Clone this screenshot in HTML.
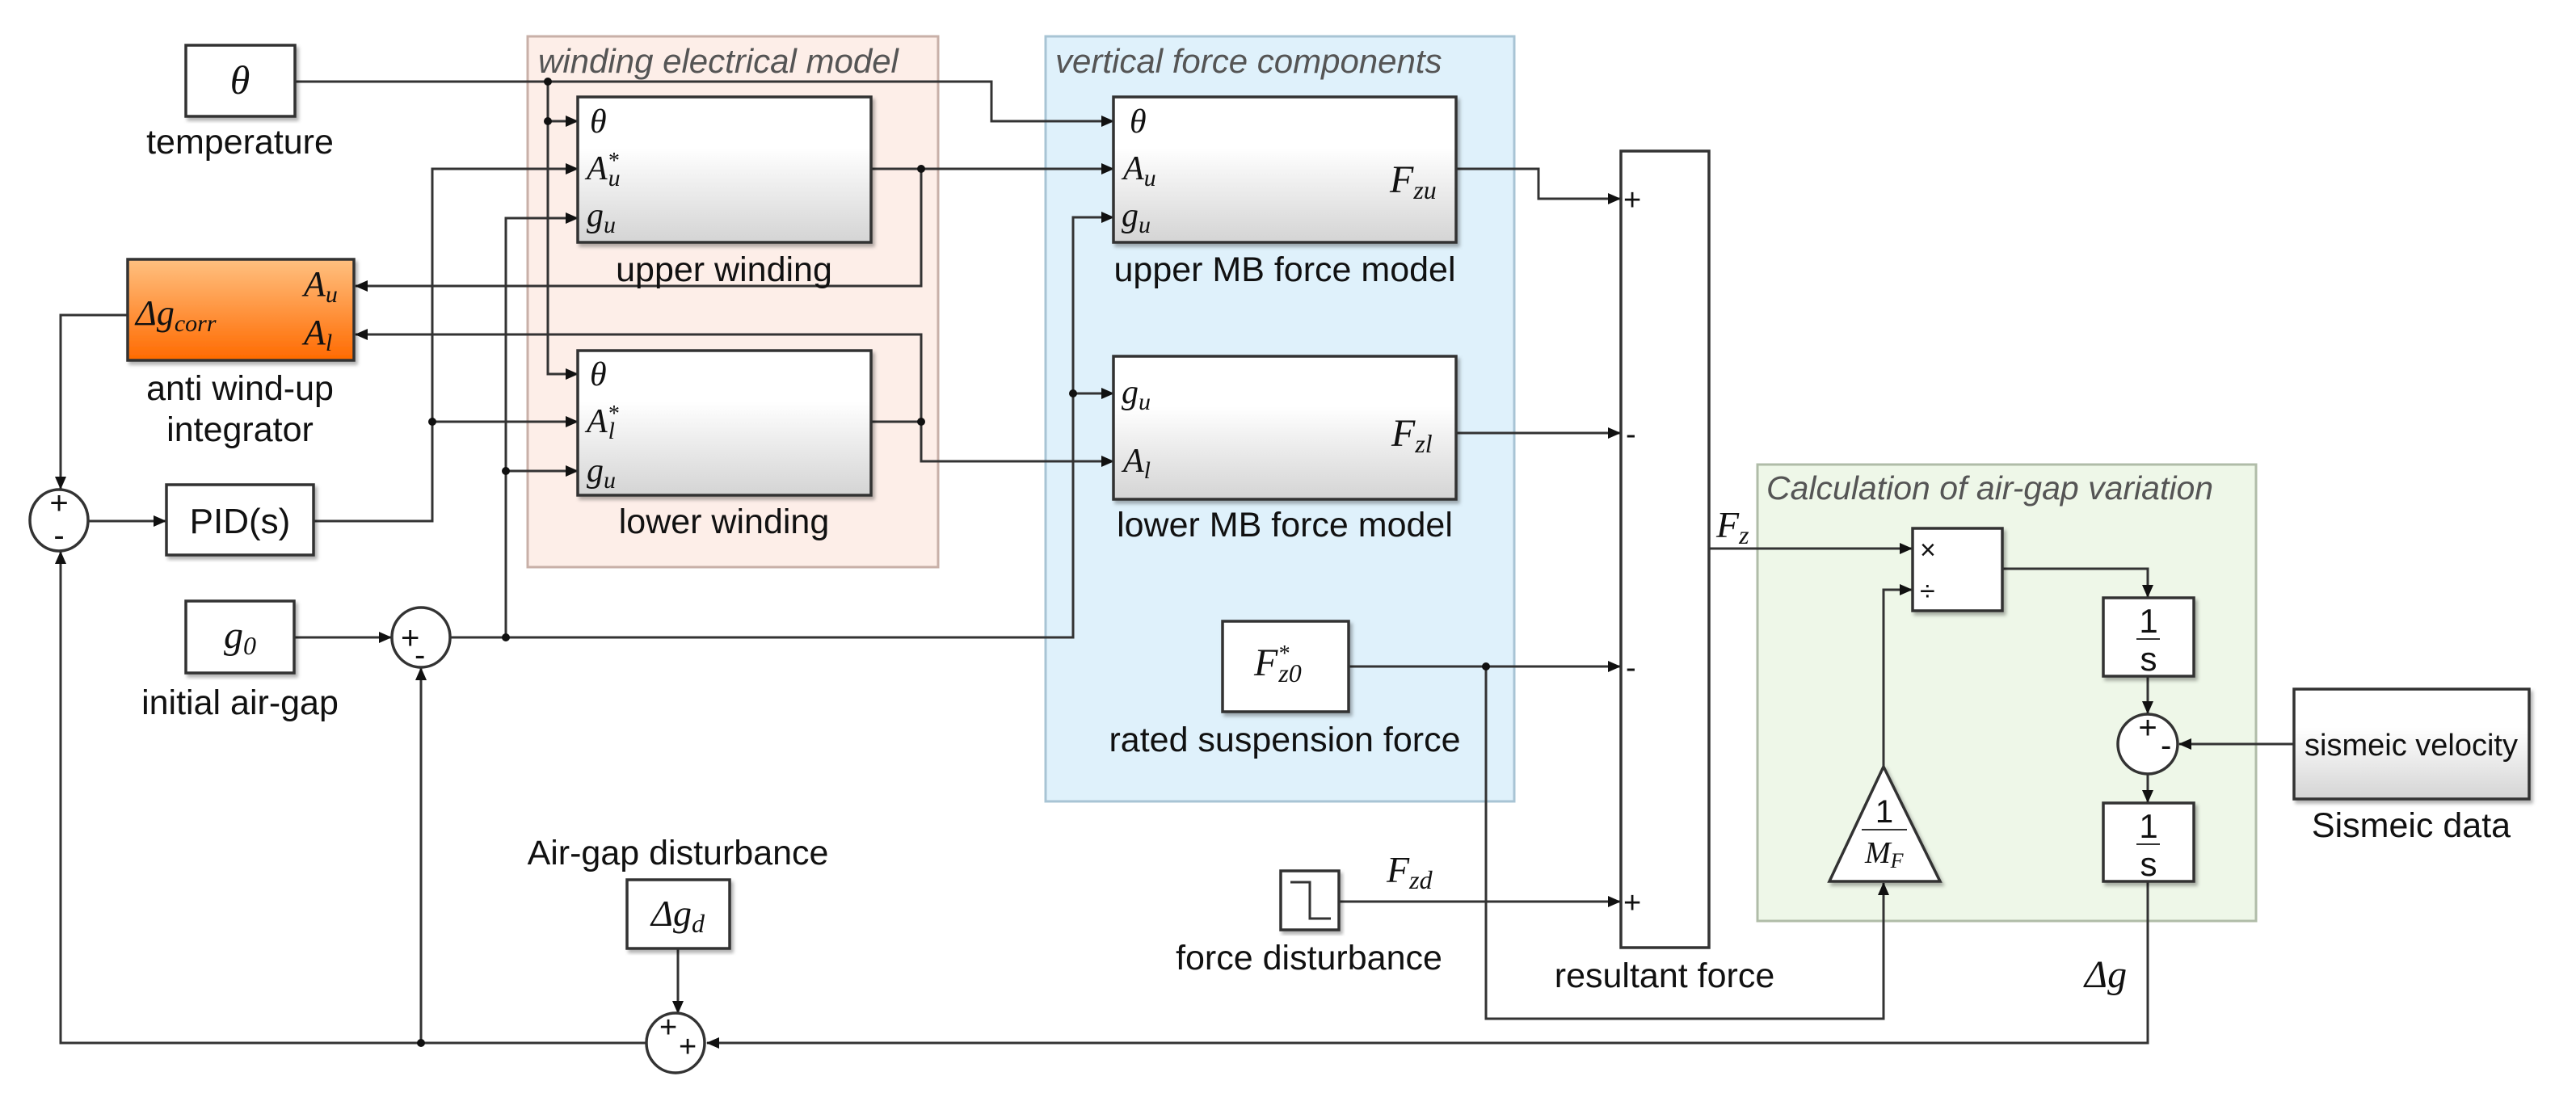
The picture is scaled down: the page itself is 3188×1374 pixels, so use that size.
<!DOCTYPE html>
<html><head><meta charset="utf-8"><style>
html,body{margin:0;padding:0;background:#fff;}
svg{display:block;}
.s{font-family:"Liberation Sans",sans-serif;fill:#111;}
.m{font-family:"Liberation Serif",serif;font-style:italic;fill:#111;}
.t{font-family:"Liberation Sans",sans-serif;font-style:italic;fill:#555;}
.w{stroke:#333;stroke-width:3;fill:none;}
.b{stroke:#333;stroke-width:3.5;}
</style></head><body>
<svg width="3188" height="1374" viewBox="0 0 3188 1374" xmlns="http://www.w3.org/2000/svg" font-size="42">
<defs>
<marker id="a" markerWidth="16" markerHeight="16" refX="15" refY="8" orient="auto" markerUnits="userSpaceOnUse" viewBox="0 0 16 16"><path d="M0,1 L16,8 L0,15z" fill="#111"/></marker>
<linearGradient id="g" x1="0" y1="0" x2="0" y2="1"><stop offset="0.35" stop-color="#fff"/><stop offset="1" stop-color="#d4d4d4"/></linearGradient>
<linearGradient id="o" x1="0" y1="0" x2="0" y2="1"><stop offset="0" stop-color="#ffc080"/><stop offset="1" stop-color="#ff6a00"/></linearGradient>
<filter id="sh" x="-5%" y="-5%" width="115%" height="115%"><feDropShadow dx="3" dy="4" stdDeviation="2" flood-color="#000" flood-opacity="0.3"/></filter>
</defs>

<rect x="653" y="45" width="508" height="657" fill="#fdeee8" stroke="#c8b0a8" stroke-width="3"/>
<text class="t" x="666" y="90" font-size="42">winding electrical model</text>
<rect x="1294" y="45" width="580" height="947" fill="#dff1fb" stroke="#a8c4d4" stroke-width="3"/>
<text class="t" x="1306" y="90" font-size="42">vertical force components</text>
<rect x="2175" y="575" width="617" height="565" fill="#eef7e8" stroke="#b0bca8" stroke-width="3"/>
<text class="t" x="2186" y="618" font-size="41">Calculation of air-gap variation</text>

<g class="w" marker-end="url(#a)">
<polyline points="365,101 1227,101 1227,150 1378,150"/>
<polyline points="678,101 678,150 715,150"/>
<polyline points="678,150 678,463 715,463"/>
<polyline points="388,645 535,645 535,209 715,209"/>
<polyline points="535,522 715,522"/>
<polyline points="558,789 1328,789 1328,269 1378,269"/>
<polyline points="626,789 626,270 715,270"/>
<polyline points="626,583 715,583"/>
<polyline points="1328,487 1378,487"/>
<polyline points="1078,209 1378,209"/>
<polyline points="1140,209 1140,354 440,354"/>
<polyline points="1078,522 1140,522 1140,414 440,414"/>
<polyline points="1140,522 1140,571 1378,571"/>
<polyline points="158,390 75,390 75,605"/>
<polyline points="109,645 205,645"/>
<polyline points="364,789 484,789"/>
<polyline points="1802,209 1904,209 1904,246 2005,246"/>
<polyline points="1802,536 2005,536"/>
<polyline points="1669,825 2005,825"/>
<polyline points="1657,1116 2005,1116"/>
<polyline points="1839,825 1839,1261 2331,1261 2331,1093"/>
<polyline points="2331,949 2331,730 2366,730"/>
<polyline points="2115,679 2366,679"/>
<polyline points="2478,704 2658,704 2658,739"/>
<polyline points="2658,837 2658,883"/>
<polyline points="2658,957 2658,993"/>
<polyline points="2839,921 2697,921"/>
<polyline points="2658,1091 2658,1291 875,1291"/>
<polyline points="839,1174 839,1254"/>
<polyline points="800,1291 75,1291 75,683"/>
<polyline points="521,1291 521,827"/>
</g>
<g fill="#111">
<circle cx="678" cy="101" r="5"/><circle cx="678" cy="150" r="5"/>
<circle cx="535" cy="522" r="5"/><circle cx="626" cy="583" r="5"/>
<circle cx="626" cy="789" r="5"/><circle cx="1140" cy="209" r="5"/>
<circle cx="1140" cy="522" r="5"/><circle cx="1328" cy="487" r="5"/>
<circle cx="1839" cy="825" r="5"/><circle cx="521" cy="1291" r="5"/>
</g>

<rect x="230" y="56" width="135" height="88" fill="#fff" class="b" filter="url(#sh)"/>
<text class="m" x="297" y="116" text-anchor="middle" font-size="50">θ</text>
<text class="s" x="297" y="190" text-anchor="middle" font-size="43">temperature</text>

<rect x="158" y="321" width="280" height="125" fill="url(#o)" class="b" filter="url(#sh)"/>
<text class="m" x="168" y="402" font-size="44">Δg<tspan font-size="30" dy="8">corr</tspan></text>
<text class="m" x="376" y="366" font-size="44">A<tspan font-size="30" dy="8">u</tspan></text>
<text class="m" x="376" y="426" font-size="44">A<tspan font-size="30" dy="8">l</tspan></text>
<text class="s" x="297" y="495" text-anchor="middle" font-size="43">anti wind-up</text>
<text class="s" x="297" y="546" text-anchor="middle" font-size="43">integrator</text>

<rect x="206" y="600" width="182" height="87" fill="#fff" class="b" filter="url(#sh)"/>
<text class="s" x="297" y="660" text-anchor="middle" font-size="44">PID(s)</text>

<ellipse cx="73" cy="644" rx="36" ry="38" fill="#fff" class="b"/>
<text class="s" x="73" y="636" text-anchor="middle" font-size="40">+</text>
<text class="s" x="73" y="676" text-anchor="middle" font-size="40">-</text>
<ellipse cx="521" cy="789" rx="36" ry="37" fill="#fff" class="b"/>
<text class="s" x="496" y="803" font-size="40">+</text>
<text class="s" x="513" y="824" font-size="40">-</text>
<ellipse cx="836" cy="1291" rx="36" ry="37" fill="#fff" class="b"/>
<text class="s" x="816" y="1284" font-size="38">+</text>
<text class="s" x="840" y="1308" font-size="38">+</text>
<ellipse cx="2658" cy="921" rx="37" ry="37" fill="#fff" class="b"/>
<text class="s" x="2658" y="914" text-anchor="middle" font-size="40">+</text>
<text class="s" x="2674" y="936" font-size="40">-</text>

<rect x="230" y="744" width="134" height="89" fill="#fff" class="b" filter="url(#sh)"/>
<text class="m" x="297" y="802" text-anchor="middle" font-size="48">g<tspan font-size="32" dy="8">0</tspan></text>
<text class="s" x="297" y="884" text-anchor="middle" font-size="43">initial air-gap</text>

<rect x="715" y="120" width="363" height="180" fill="url(#g)" class="b" filter="url(#sh)"/>
<text class="m" x="730" y="164" font-size="42">θ</text>
<text class="m" x="726" y="222" font-size="42">A<tspan font-size="28" dy="-14">*</tspan><tspan font-size="30" dx="-13" dy="22">u</tspan></text>
<text class="m" x="726" y="280" font-size="42">g<tspan font-size="30" dy="8">u</tspan></text>
<text class="s" x="896" y="348" text-anchor="middle" font-size="43">upper winding</text>
<rect x="715" y="434" width="363" height="179" fill="url(#g)" class="b" filter="url(#sh)"/>
<text class="m" x="730" y="477" font-size="42">θ</text>
<text class="m" x="726" y="535" font-size="42">A<tspan font-size="28" dy="-14">*</tspan><tspan font-size="30" dx="-13" dy="22">l</tspan></text>
<text class="m" x="726" y="596" font-size="42">g<tspan font-size="30" dy="8">u</tspan></text>
<text class="s" x="896" y="660" text-anchor="middle" font-size="43">lower winding</text>

<rect x="1378" y="120" width="424" height="180" fill="url(#g)" class="b" filter="url(#sh)"/>
<text class="m" x="1398" y="164" font-size="42">θ</text>
<text class="m" x="1390" y="222" font-size="42">A<tspan font-size="30" dy="8">u</tspan></text>
<text class="m" x="1388" y="280" font-size="42">g<tspan font-size="30" dy="8">u</tspan></text>
<text class="m" x="1720" y="238" font-size="48">F<tspan font-size="32" dy="8">zu</tspan></text>
<text class="s" x="1590" y="348" text-anchor="middle" font-size="43">upper MB force model</text>
<rect x="1378" y="441" width="424" height="177" fill="url(#g)" class="b" filter="url(#sh)"/>
<text class="m" x="1388" y="499" font-size="42">g<tspan font-size="30" dy="8">u</tspan></text>
<text class="m" x="1390" y="584" font-size="42">A<tspan font-size="30" dy="8">l</tspan></text>
<text class="m" x="1722" y="552" font-size="48">F<tspan font-size="32" dy="8">zl</tspan></text>
<text class="s" x="1590" y="664" text-anchor="middle" font-size="43">lower MB force model</text>

<rect x="1513" y="769" width="156" height="112" fill="#fff" class="b" filter="url(#sh)"/>
<text class="m" x="1552" y="836" font-size="48">F<tspan font-size="28" dy="-18">*</tspan><tspan font-size="32" dx="-13" dy="26">z0</tspan></text>
<text class="s" x="1590" y="930" text-anchor="middle" font-size="43">rated suspension force</text>

<rect x="1585" y="1078" width="72" height="73" fill="#fff" class="b" filter="url(#sh)"/>
<polyline points="1597,1092 1621,1092 1621,1137 1647,1137" fill="none" stroke="#333" stroke-width="3"/>
<text class="s" x="1620" y="1200" text-anchor="middle" font-size="43">force disturbance</text>
<text class="m" x="1716" y="1092" font-size="46">F<tspan font-size="32" dy="8">zd</tspan></text>

<text class="s" x="839" y="1070" text-anchor="middle" font-size="43">Air-gap disturbance</text>
<rect x="776" y="1089" width="127" height="85" fill="#fff" class="b" filter="url(#sh)"/>
<text class="m" x="839" y="1146" text-anchor="middle" font-size="46">Δg<tspan font-size="32" dy="8">d</tspan></text>

<rect x="2006" y="187" width="109" height="986" fill="#fff" class="b"/>
<text class="s" x="2009" y="260" font-size="38">+</text>
<text class="s" x="2012" y="550" font-size="38">-</text>
<text class="s" x="2012" y="839" font-size="38">-</text>
<text class="s" x="2009" y="1130" font-size="38">+</text>
<text class="s" x="2060" y="1222" text-anchor="middle" font-size="43">resultant force</text>
<text class="m" x="2124" y="665" font-size="46">F<tspan font-size="32" dy="8">z</tspan></text>

<rect x="2367" y="654" width="111" height="102" fill="#fff" class="b" filter="url(#sh)"/>
<text class="s" x="2376" y="692" font-size="34" fill="#444">×</text>
<text class="s" x="2376" y="743" font-size="34" fill="#444">÷</text>

<polygon points="2331,949 2264,1091 2401,1091" fill="#fff" class="b" filter="url(#sh)"/>
<text class="s" x="2332" y="1018" text-anchor="middle" font-size="40">1</text>
<line x1="2304" y1="1027" x2="2360" y2="1027" stroke="#333" stroke-width="2"/>
<text class="m" x="2308" y="1068" font-size="38">M<tspan font-size="26" dy="6">F</tspan></text>

<rect x="2603" y="740" width="112" height="97" fill="#fff" class="b" filter="url(#sh)"/>
<text class="s" x="2659" y="783" text-anchor="middle" font-size="42">1</text>
<line x1="2644" y1="791" x2="2673" y2="791" stroke="#333" stroke-width="2"/>
<text class="s" x="2659" y="830" text-anchor="middle" font-size="42">s</text>
<rect x="2603" y="994" width="112" height="97" fill="#fff" class="b" filter="url(#sh)"/>
<text class="s" x="2659" y="1037" text-anchor="middle" font-size="42">1</text>
<line x1="2644" y1="1045" x2="2673" y2="1045" stroke="#333" stroke-width="2"/>
<text class="s" x="2659" y="1084" text-anchor="middle" font-size="42">s</text>
<text class="m" x="2606" y="1222" text-anchor="middle" font-size="48">Δg</text>

<rect x="2839" y="853" width="291" height="136" fill="url(#g)" class="b" filter="url(#sh)"/>
<text class="s" x="2984" y="935" text-anchor="middle" font-size="38">sismeic velocity</text>
<text class="s" x="2984" y="1036" text-anchor="middle" font-size="43">Sismeic data</text>
</svg>
</body></html>
